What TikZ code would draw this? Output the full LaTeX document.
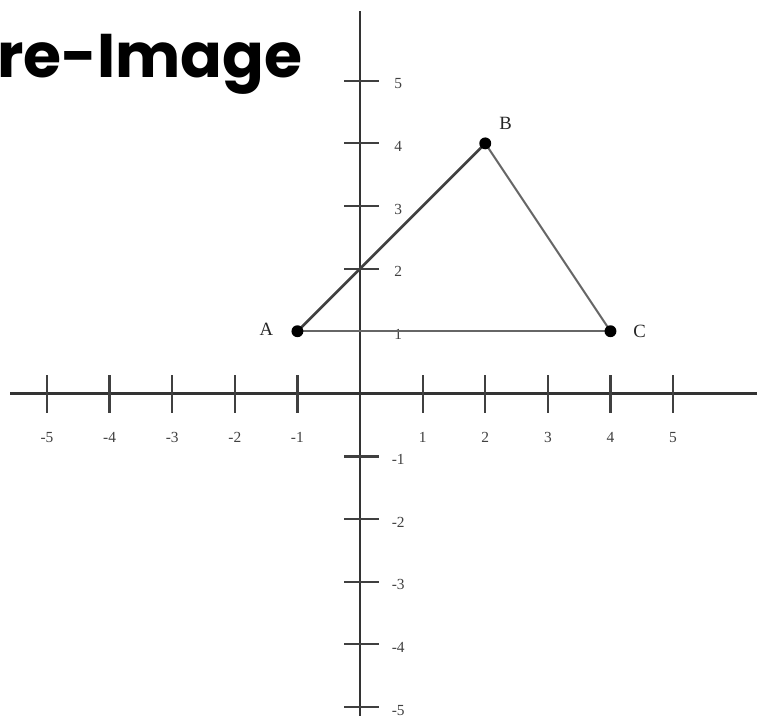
\documentclass[tikz,border=0pt]{standalone}
\usepackage{fontspec}
\setmainfont{Liberation Serif}
\newfontfamily\titlefont{Poppins}
\usetikzlibrary{positioning}

\tikzset{
  axisline/.style={black!80, line width=1.3pt},
  tickmark/.style={black!75, line width=1pt},
  ticklabel/.style={black!75, font=\fontsize{7}{8}\selectfont, inner sep=0pt},
  ptlabel/.style={black!85, font=\fontsize{8.5}{10}\selectfont, inner sep=0pt},
  side/.style={black!60, line width=0.9pt},
}

\begin{document}
\begin{tikzpicture}
\useasboundingbox (-5.75,-5.14) rectangle (6.34,6.29);
\clip (-5.75,-5.14) rectangle (6.34,6.29);

% ---------- title ----------
\node[anchor=base east, inner sep=0pt, font=\titlefont\bfseries\fontsize{28}{32}\selectfont] (title) at (-0.91,5.05) {Pre-Image};

% ---------- axes ----------
\coordinate (xmin) at (-5.59,0);
\coordinate (xmax) at (6.34,0);
\coordinate (ymin) at (0,-5.14);
\coordinate (ymax) at (0,6.12);
\draw[axisline] (xmin) -- (xmax);
\draw[axisline] (ymin) -- (ymax);

% ---------- ticks and numbers ----------
\foreach \k in {-5,...,-1,1,2,...,5}{
  \draw[tickmark] (\k,-0.3) -- (\k,0.3);
  \draw[tickmark] (-0.25,\k) -- (0.3,\k);
  \node[ticklabel] at (\k,-0.69) {\k};
  \node[ticklabel] at (0.61,\k-0.05) {\k};
}

% ---------- triangle ABC ----------
\coordinate (A) at (-1,1);
\coordinate (B) at (2,4);
\coordinate (C) at (4,1);

\draw[side, black!75, line width=1.2pt] (A) -- (B);
\draw[side] (B) -- (C);
\draw[side] (A) -- (C);

\foreach \p in {A,B,C}{\fill (\p) circle (0.095);}

% ---------- point labels ----------
\node[ptlabel, left=0.38cm of A, yshift=1pt] (labA) {A};
\node[ptlabel, above right=0.22cm and 0.22cm of B] (labB) {B};
\node[ptlabel, right=0.36cm of C] (labC) {C};

\end{tikzpicture}
\end{document}
